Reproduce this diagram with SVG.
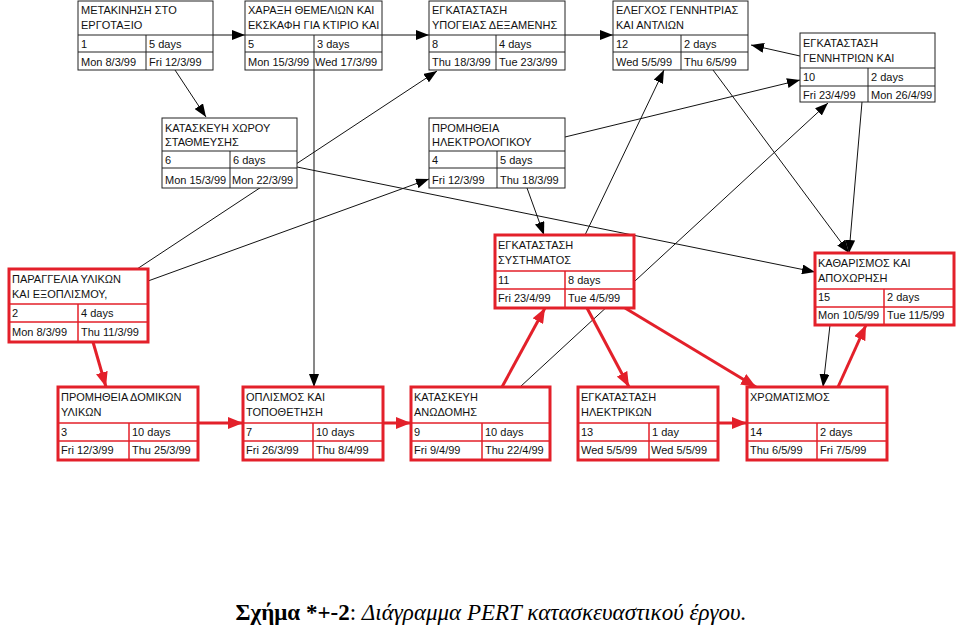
<svg xmlns="http://www.w3.org/2000/svg" width="960" height="627" viewBox="0 0 960 627">
<defs>
<style>
.bx{fill:#fff;stroke:#222;stroke-width:1}
.bl{stroke:#222;stroke-width:1;fill:none}
.rbx{fill:#fff;stroke:#e3202a;stroke-width:3}
.rl{stroke:#e3202a;stroke-width:1.5;fill:none}
.t{font-family:"Liberation Sans",Arial,sans-serif;font-size:11px;fill:#111}
.c{stroke:#111;stroke-width:1;fill:none;marker-end:url(#ab)}
.rc{stroke:#e3202a;stroke-width:3;fill:none;marker-end:url(#ar)}
</style>
<marker id="ab" markerUnits="userSpaceOnUse" markerWidth="13" markerHeight="10" refX="13" refY="5" orient="auto"><path d="M0,0 L13,5 L0,10 z" fill="#000"/></marker>
<marker id="ar" markerUnits="userSpaceOnUse" markerWidth="15" markerHeight="12" refX="15" refY="6" orient="auto"><path d="M0,0 L15,6 L0,12 z" fill="#e3202a"/></marker>
</defs>
<rect width="960" height="627" fill="#fff"/>
<g id="connectors">
<line class="c" x1="213" y1="35" x2="245" y2="35"/>
<line class="c" x1="382" y1="35" x2="429" y2="35"/>
<line class="c" x1="565" y1="35" x2="613" y2="35"/>
<line class="c" x1="800" y1="56" x2="751" y2="45"/>
<line class="c" x1="175" y1="70" x2="206" y2="117"/>
<line class="c" x1="314" y1="70" x2="314" y2="387"/>
<line class="c" x1="137" y1="269" x2="437" y2="71"/>
<line class="c" x1="297" y1="167" x2="815" y2="272"/>
<line class="c" x1="148" y1="281" x2="429" y2="179"/>
<line class="c" x1="565" y1="137" x2="800" y2="80"/>
<line class="c" x1="527" y1="188" x2="544" y2="235"/>
<line class="c" x1="585" y1="235" x2="664" y2="70"/>
<line class="c" x1="520" y1="387" x2="828" y2="103"/>
<line class="c" x1="713" y1="70" x2="849" y2="253"/>
<line class="c" x1="862" y1="102" x2="849" y2="253"/>
<line class="c" x1="830" y1="325" x2="823" y2="387"/>
<line class="rc" x1="93" y1="342" x2="106" y2="387"/>
<line class="rc" x1="198" y1="423" x2="243" y2="423"/>
<line class="rc" x1="383" y1="423" x2="411" y2="423"/>
<line class="rc" x1="502" y1="387" x2="545" y2="308"/>
<line class="rc" x1="587" y1="308" x2="629" y2="387"/>
<line class="rc" x1="718" y1="423" x2="747" y2="423"/>
<line class="rc" x1="625" y1="308" x2="756" y2="387"/>
<line class="rc" x1="838" y1="387" x2="866" y2="325"/>
</g>
<g id="n1">
<rect class="bx" x="78" y="1" width="135" height="69"/>
<path class="bl" d="M78,35H213M78,52H213M146,35V70"/>
<text class="t" x="81" y="14">ΜΕΤΑΚΙΝΗΣΗ ΣΤΟ</text><text class="t" x="81" y="29">ΕΡΓΟΤΑΞΙΟ</text>
<text class="t" x="81" y="48">1</text><text class="t" x="149" y="48">5 days</text>
<text class="t" x="81" y="66">Mon 8/3/99</text><text class="t" x="149" y="66">Fri 12/3/99</text>
</g>
<g id="n5">
<rect class="bx" x="245" y="1" width="137" height="69"/>
<path class="bl" d="M245,35H382M245,52H382M314,35V70"/>
<text class="t" x="248" y="14">ΧΑΡΑΞΗ ΘΕΜΕΛΙΩΝ ΚΑΙ</text><text class="t" x="248" y="29">ΕΚΣΚΑΦΗ ΓΙΑ ΚΤΙΡΙΟ ΚΑΙ</text>
<text class="t" x="248" y="48">5</text><text class="t" x="317" y="48">3 days</text>
<text class="t" x="248" y="66">Mon 15/3/99</text><text class="t" x="315" y="66">Wed 17/3/99</text>
</g>
<g id="n8">
<rect class="bx" x="429" y="1" width="136" height="69"/>
<path class="bl" d="M429,35H565M429,52H565M496,35V70"/>
<text class="t" x="432" y="14">ΕΓΚΑΤΑΣΤΑΣΗ</text><text class="t" x="432" y="29">ΥΠΟΓΕΙΑΣ ΔΕΞΑΜΕΝΗΣ</text>
<text class="t" x="432" y="48">8</text><text class="t" x="499" y="48">4 days</text>
<text class="t" x="432" y="66">Thu 18/3/99</text><text class="t" x="499" y="66">Tue 23/3/99</text>
</g>
<g id="n12">
<rect class="bx" x="613" y="1" width="135" height="69"/>
<path class="bl" d="M613,35H748M613,52H748M681,35V70"/>
<text class="t" x="616" y="14">ΕΛΕΓΧΟΣ ΓΕΝΝΗΤΡΙΑΣ</text><text class="t" x="616" y="29">ΚΑΙ ΑΝΤΛΙΩΝ</text>
<text class="t" x="616" y="48">12</text><text class="t" x="684" y="48">2 days</text>
<text class="t" x="616" y="66">Wed 5/5/99</text><text class="t" x="684" y="66">Thu 6/5/99</text>
</g>
<g id="n10">
<rect class="bx" x="800" y="33" width="135" height="69"/>
<path class="bl" d="M800,68H935M800,86H935M868,68V102"/>
<text class="t" x="803" y="47">ΕΓΚΑΤΑΣΤΑΣΗ</text><text class="t" x="803" y="62">ΓΕΝΝΗΤΡΙΩΝ ΚΑΙ</text>
<text class="t" x="803" y="81">10</text><text class="t" x="871" y="81">2 days</text>
<text class="t" x="803" y="99">Fri 23/4/99</text><text class="t" x="871" y="99">Mon 26/4/99</text>
</g>
<g id="n6">
<rect class="bx" x="162" y="118" width="135" height="70"/>
<path class="bl" d="M162,151H297M162,168H297M230,151V188"/>
<text class="t" x="165" y="132">ΚΑΤΑΣΚΕΥΗ ΧΩΡΟΥ</text><text class="t" x="165" y="146">ΣΤΑΘΜΕΥΣΗΣ</text>
<text class="t" x="165" y="164">6</text><text class="t" x="233" y="164">6 days</text>
<text class="t" x="165" y="184">Mon 15/3/99</text><text class="t" x="232" y="184">Mon 22/3/99</text>
</g>
<g id="n4">
<rect class="bx" x="429" y="118" width="136" height="70"/>
<path class="bl" d="M429,151H565M429,168H565M497,151V188"/>
<text class="t" x="432" y="132">ΠΡΟΜΗΘΕΙΑ</text><text class="t" x="432" y="146">ΗΛΕΚΤΡΟΛΟΓΙΚΟΥ</text>
<text class="t" x="432" y="164">4</text><text class="t" x="500" y="164">5 days</text>
<text class="t" x="432" y="184">Fri 12/3/99</text><text class="t" x="500" y="184">Thu 18/3/99</text>
</g>
<g id="n2">
<rect class="rbx" x="9" y="269" width="139" height="73"/>
<path class="rl" d="M9,304H148M9,322H148M78,304V342"/>
<text class="t" x="12" y="283">ΠΑΡΑΓΓΕΛΙΑ ΥΛΙΚΩΝ</text><text class="t" x="12" y="298">ΚΑΙ ΕΞΟΠΛΙΣΜΟΥ,</text>
<text class="t" x="12" y="317">2</text><text class="t" x="81" y="317">4 days</text>
<text class="t" x="12" y="336">Mon 8/3/99</text><text class="t" x="81" y="336">Thu 11/3/99</text>
</g>
<g id="n11">
<rect class="rbx" x="495" y="235" width="139" height="73"/>
<path class="rl" d="M495,271H634M495,289H634M565,271V308"/>
<text class="t" x="498" y="249">ΕΓΚΑΤΑΣΤΑΣΗ</text><text class="t" x="498" y="264">ΣΥΣΤΗΜΑΤΟΣ</text>
<text class="t" x="498" y="284">11</text><text class="t" x="568" y="284">8 days</text>
<text class="t" x="498" y="302">Fri 23/4/99</text><text class="t" x="568" y="302">Tue 4/5/99</text>
</g>
<g id="n15">
<rect class="rbx" x="815" y="253" width="139" height="72"/>
<path class="rl" d="M815,289H954M815,307H954M884,289V325"/>
<text class="t" x="818" y="267">ΚΑΘΑΡΙΣΜΟΣ ΚΑΙ</text><text class="t" x="818" y="282">ΑΠΟΧΩΡΗΣΗ</text>
<text class="t" x="818" y="301">15</text><text class="t" x="887" y="301">2 days</text>
<text class="t" x="818" y="319">Mon 10/5/99</text><text class="t" x="887" y="319">Tue 11/5/99</text>
</g>
<g id="n3">
<rect class="rbx" x="58" y="387" width="140" height="73"/>
<path class="rl" d="M58,423H198M58,441H198M129,423V460"/>
<text class="t" x="61" y="401">ΠΡΟΜΗΘΕΙΑ ΔΟΜΙΚΩΝ</text><text class="t" x="61" y="416">ΥΛΙΚΩΝ</text>
<text class="t" x="61" y="436">3</text><text class="t" x="132" y="436">10 days</text>
<text class="t" x="61" y="454">Fri 12/3/99</text><text class="t" x="132" y="454">Thu 25/3/99</text>
</g>
<g id="n7">
<rect class="rbx" x="243" y="387" width="140" height="73"/>
<path class="rl" d="M243,423H383M243,441H383M313,423V460"/>
<text class="t" x="246" y="401">ΟΠΛΙΣΜΟΣ ΚΑΙ</text><text class="t" x="246" y="416">ΤΟΠΟΘΕΤΗΣΗ</text>
<text class="t" x="246" y="436">7</text><text class="t" x="316" y="436">10 days</text>
<text class="t" x="246" y="454">Fri 26/3/99</text><text class="t" x="316" y="454">Thu 8/4/99</text>
</g>
<g id="n9">
<rect class="rbx" x="411" y="387" width="139" height="73"/>
<path class="rl" d="M411,423H550M411,441H550M482,423V460"/>
<text class="t" x="414" y="401">ΚΑΤΑΣΚΕΥΗ</text><text class="t" x="414" y="416">ΑΝΩΔΟΜΗΣ</text>
<text class="t" x="414" y="436">9</text><text class="t" x="485" y="436">10 days</text>
<text class="t" x="414" y="454">Fri 9/4/99</text><text class="t" x="485" y="454">Thu 22/4/99</text>
</g>
<g id="n13">
<rect class="rbx" x="578" y="387" width="140" height="73"/>
<path class="rl" d="M578,423H718M578,441H718M649,423V460"/>
<text class="t" x="581" y="401">ΕΓΚΑΤΑΣΤΑΣΗ</text><text class="t" x="581" y="416">ΗΛΕΚΤΡΙΚΩΝ</text>
<text class="t" x="581" y="436">13</text><text class="t" x="652" y="436">1 day</text>
<text class="t" x="581" y="454">Wed 5/5/99</text><text class="t" x="651" y="454">Wed 5/5/99</text>
</g>
<g id="n14">
<rect class="rbx" x="747" y="387" width="140" height="73"/>
<path class="rl" d="M747,423H887M747,441H887M817,423V460"/>
<text class="t" x="750" y="401">ΧΡΩΜΑΤΙΣΜΟΣ</text>
<text class="t" x="750" y="436">14</text><text class="t" x="820" y="436">2 days</text>
<text class="t" x="750" y="454">Thu 6/5/99</text><text class="t" x="820" y="454">Fri 7/5/99</text>
</g>
<text x="491" y="620" text-anchor="middle" font-family="'Liberation Serif','Times New Roman',serif" font-size="23" fill="#000"><tspan font-weight="bold">Σχήμα *+-2</tspan>: <tspan font-style="italic">Διάγραμμα PERT κατασκευαστικού έργου.</tspan></text>
</svg>
